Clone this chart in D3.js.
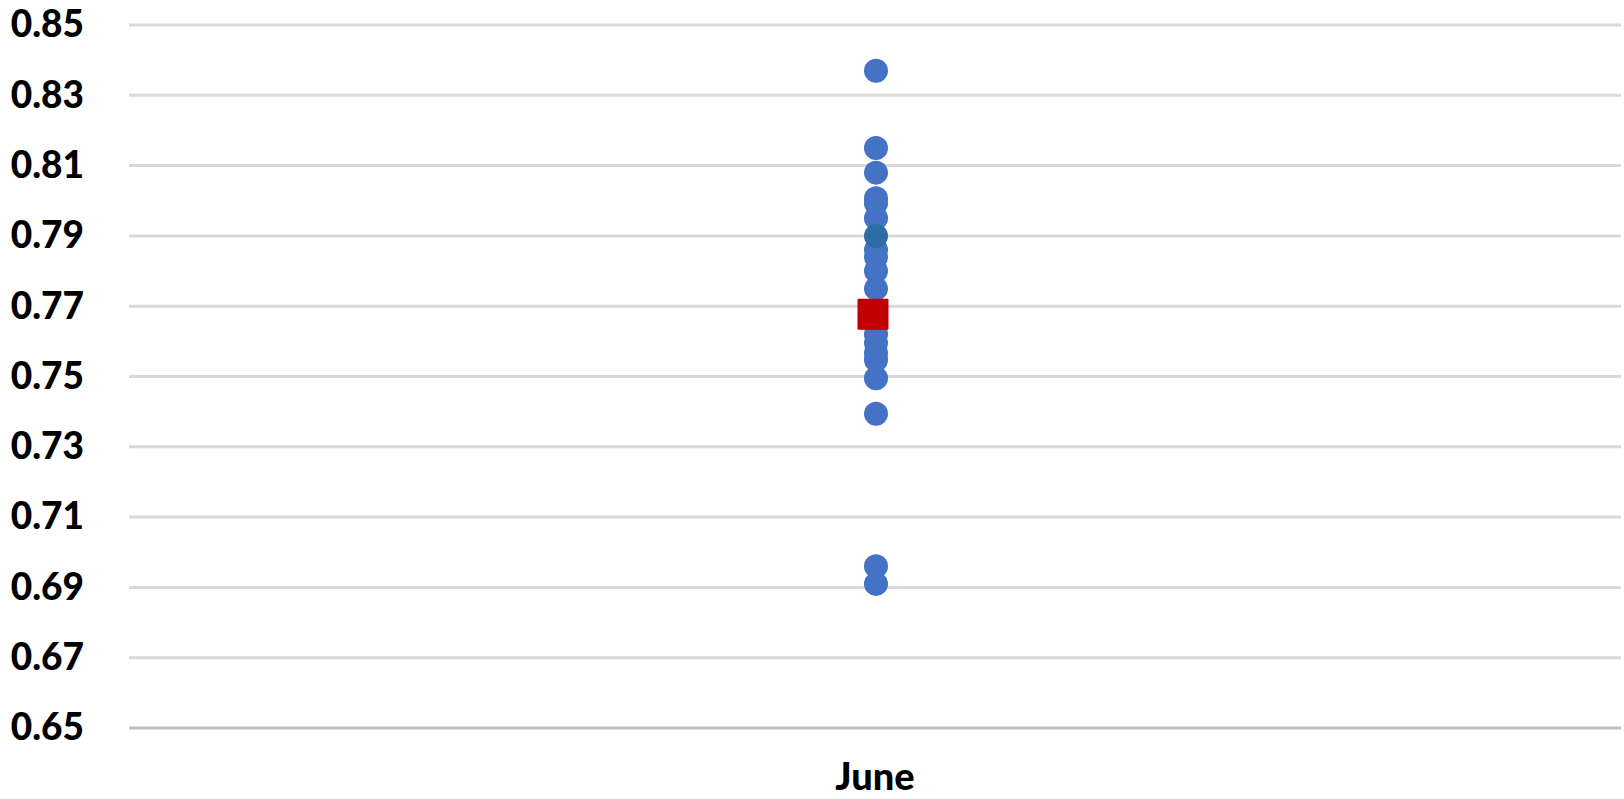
<!DOCTYPE html>
<html lang="en">
<head>
    <meta charset="UTF-8">
    <title>June scatter</title>
    <script src="https://cdnjs.cloudflare.com/ajax/libs/d3/7.8.5/d3.min.js"></script>
    <style>
        body { margin: 0; background: #fff; }
        text { font-family: Lato, "Open Sans", sans-serif; font-weight: 900; }
    </style>
</head>
<body>
<svg id="chart"></svg>
<script>
const categories = ["June"];
const yTicks = [0.65, 0.67, 0.69, 0.71, 0.73, 0.75, 0.77, 0.79, 0.81, 0.83, 0.85];

// blue points
const juneValues = [0.837, 0.815, 0.808, 0.8007, 0.7993, 0.795, 0.786, 0.784, 0.780, 0.775,
    0.765, 0.762, 0.7595, 0.7566, 0.7547, 0.7495, 0.7394, 0.696, 0.691];
// the one darker point
const highlightValues = [0.790];
// red square marker
const averageValues = [0.7677];

const W = 1624, H = 799;
const margin = {left: 129, right: 3, top: 25, bottom: 71};
const width = W - margin.left - margin.right;
const height = H - margin.top - margin.bottom;

const svg = d3.select("#chart")
    .attr("width", W)
    .attr("height", H)
    .append("g")
    .attr("transform", "translate(" + margin.left + "," + margin.top + ")");

const x = d3.scaleBand().domain(categories).range([0, width]);
const y = d3.scaleLinear().domain([0.65, 0.85]).range([height, 0]);

// gridlines
svg.append("g")
    .selectAll("line")
    .data(yTicks)
    .enter()
    .append("line")
    .attr("x1", 0)
    .attr("x2", width)
    .attr("y1", d => y(d))
    .attr("y2", d => y(d))
    .attr("stroke", d => d === 0.65 ? "#bfbfbf" : "#d9d9d9")
    .attr("stroke-width", 3);

// y axis labels
const yAxis = d3.axisLeft(y)
    .tickValues(yTicks)
    .tickFormat(d3.format(".2f"))
    .tickSize(0)
    .tickPadding(45);
svg.append("g")
    .call(yAxis)
    .call(g => g.select(".domain").remove())
    .selectAll("text")
    .style("font-size", "37px")
    .attr("fill", "#000");

// x axis labels
const xAxis = d3.axisBottom(x).tickSize(0).tickPadding(35);
svg.append("g")
    .attr("transform", "translate(0," + height + ")")
    .call(xAxis)
    .call(g => g.select(".domain").remove())
    .selectAll("text")
    .style("font-size", "38px")
    .attr("fill", "#000");

const cx = x("June") + x.bandwidth() / 2 + 1;

// dots
svg.append("g")
    .selectAll("circle")
    .data(juneValues)
    .enter()
    .append("circle")
    .attr("cx", cx)
    .attr("cy", d => y(d))
    .attr("r", 12)
    .attr("fill", "#4472c4");

svg.append("g")
    .selectAll("circle")
    .data(highlightValues)
    .enter()
    .append("circle")
    .attr("cx", cx)
    .attr("cy", d => y(d))
    .attr("r", 12)
    .attr("fill", "#2e6da4");

// red square
const SQ = 31;
svg.append("g")
    .selectAll("rect")
    .data(averageValues)
    .enter()
    .append("rect")
    .attr("x", cx - 3 - SQ / 2)
    .attr("y", d => y(d) - SQ / 2)
    .attr("width", SQ)
    .attr("height", SQ)
    .attr("rx", 1)
    .attr("fill", "#c00000");
</script>
</body>
</html>
